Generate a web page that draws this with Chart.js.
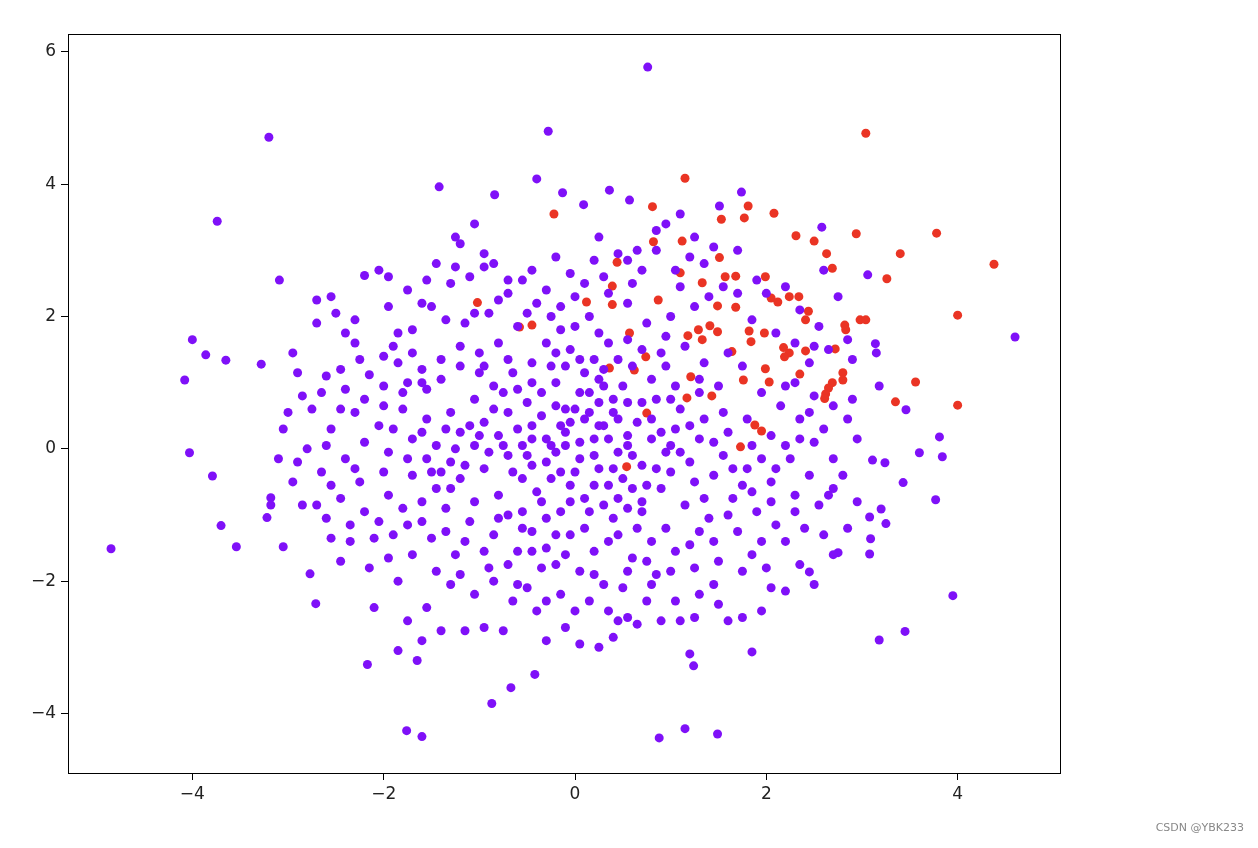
<!DOCTYPE html>
<html>
<head>
<meta charset="utf-8">
<script src="https://cdn.jsdelivr.net/npm/chart.js@4/dist/chart.umd.min.js"></script>
<style>
	html, body { margin: 0; padding: 0; background: #fff; }
	#wrap { position: relative; width: 1258px; height: 848px; }
	#mark { position: absolute; right: 14px; bottom: 14px; font: 11px "DejaVu Sans", sans-serif; color: #888; }
</style>
</head>
<body>
<div id="wrap">
	<canvas id="scatter" width="1258" height="848"></canvas>
	<div id="mark">CSDN @YBK233</div>
</div>
<script>
// points, [x, y]
const redPoints = [
	[3.04,4.77],[1.15,4.09],[-0.22,3.55],[0.81,3.66],[1.81,3.67],[2.08,3.56],[1.77,3.49],[1.53,3.47],
	[1.12,3.14],[0.82,3.13],[2.31,3.22],[2.5,3.14],[2.94,3.25],[3.78,3.26],[2.63,2.95],[3.4,2.95],
	[4.38,2.79],[3.26,2.57],[2.69,2.73],[1.51,2.89],[0.44,2.82],[1.1,2.66],[0.39,2.46],[1.33,2.51],
	[1.57,2.6],[1.68,2.61],[1.99,2.6],[0.39,2.18],[0.12,2.22],[0.87,2.25],[-1.02,2.21],[1.49,2.16],
	[1.68,2.14],[2.05,2.28],[2.12,2.22],[2.24,2.3],[2.34,2.3],[2.44,2.08],[4.0,2.02],[-0.45,1.87],
	[-0.58,1.84],[0.57,1.75],[1.18,1.71],[1.33,1.65],[1.41,1.86],[1.49,1.77],[1.29,1.8],[1.82,1.78],
	[1.98,1.75],[2.41,1.95],[2.82,1.87],[2.98,1.95],[3.04,1.95],[2.83,1.8],[1.64,1.47],[1.84,1.62],
	[2.18,1.53],[2.24,1.45],[2.19,1.39],[2.41,1.48],[2.72,1.51],[0.74,1.39],[0.36,1.22],[0.62,1.19],
	[1.99,1.21],[1.76,1.04],[2.03,1.01],[2.35,1.13],[2.8,1.15],[2.8,1.04],[2.69,1.0],[2.65,0.92],
	[2.62,0.83],[2.61,0.76],[3.56,1.01],[1.21,1.09],[1.17,0.77],[1.43,0.8],[3.35,0.71],[4.0,0.66],
	[0.75,0.54],[1.88,0.36],[1.95,0.27],[1.73,0.03],[0.54,-0.27]
];

const purplePoints = [
	[0.76,5.77],[-3.2,4.71],[-0.28,4.8],[-3.74,3.44],[-1.42,3.96],[-0.4,4.08],[-0.84,3.84],[0.36,3.91],
	[0.57,3.76],[-0.13,3.87],[0.09,3.69],[1.74,3.88],[1.51,3.67],[2.58,3.35],[-3.09,2.55],[-4.0,1.65],
	[-4.08,1.04],[-3.86,1.42],[-3.65,1.34],[-3.28,1.28],[-4.03,-0.06],[-3.79,-0.41],[-3.7,-1.16],[-3.54,-1.48],
	[-4.85,-1.51],[-3.18,-0.74],[-3.18,-0.85],[-3.22,-1.04],[-3.05,-1.48],[-2.77,-1.89],[-2.71,-2.34],[-2.17,-3.26],
	[-1.76,-4.26],[-1.6,-4.35],[-0.87,-3.85],[-0.67,-3.61],[-0.42,-3.41],[0.88,-4.37],[1.15,-4.23],[1.49,-4.31],
	[1.24,-3.28],[1.85,-3.07],[3.18,-2.89],[3.45,-2.76],[3.95,-2.22],[3.77,-0.77],[4.6,1.69],[3.81,0.18],
	[3.84,-0.12],[3.6,-0.06],[3.46,0.59],[3.18,0.95],[3.14,1.59],[3.06,2.63],[3.43,-0.51],[3.2,-0.91],
	[3.08,-1.03],[3.25,-1.13],[3.09,-1.36],[3.08,-1.59],[3.24,-0.21],[3.11,-0.17],[2.75,-1.57],[2.45,-1.86],
	[-2.7,2.25],[-2.55,2.3],[-2.7,1.9],[-2.5,2.05],[-2.4,1.75],[-2.2,2.62],[-2.05,2.7],[-1.95,2.6],
	[-2.3,1.6],[-2.25,1.35],[-2.15,1.12],[-2.0,1.4],[-1.85,1.75],[-1.7,1.8],[-1.6,2.2],[-1.45,2.8],
	[-1.25,3.2],[-1.2,3.1],[-1.05,3.4],[-1.3,2.5],[-1.1,2.6],[-0.95,2.75],[-0.85,2.8],[-1.5,2.15],
	[-1.35,1.95],[-1.15,1.9],[-0.9,2.05],[-1.7,1.45],[-1.85,1.3],[-2.6,1.1],[-2.45,1.2],[-2.9,1.15],
	[-2.85,0.8],[-2.4,0.9],[-2.0,0.95],[-1.75,1.0],[-1.55,0.9],[-1.4,1.05],[-1.2,1.25],[-1.0,1.45],
	[-0.8,1.6],[-0.7,2.35],[-0.55,2.55],[-0.4,2.2],[-0.3,2.4],[-0.15,1.8],[-0.05,2.65],[0.0,2.3],
	[0.15,2.0],[0.3,2.6],[0.45,2.95],[0.25,3.2],[0.65,3.0],[0.85,3.3],[0.95,3.4],[1.05,2.7],
	[1.2,2.9],[1.35,2.8],[1.55,2.45],[1.45,3.05],[1.7,3.0],[1.9,2.55],[2.0,2.35],[2.2,2.45],
	[2.35,2.1],[2.55,1.85],[2.6,2.7],[2.75,2.3],[2.85,1.65],[3.15,1.45],[2.9,1.35],[2.65,1.5],
	[2.45,1.3],[2.3,1.0],[2.5,0.8],[2.7,0.65],[2.9,0.75],[2.85,0.45],[2.95,0.15],[2.6,0.3],
	[2.35,0.45],[2.15,0.65],[1.95,0.85],[1.75,1.25],[1.6,1.45],[1.35,1.3],[1.15,1.55],[0.95,1.7],
	[0.75,1.9],[0.55,2.2],[0.35,1.6],[0.2,1.35],[-0.05,1.5],[-0.25,1.25],[-0.45,1.0],[-0.65,1.15],
	[-0.85,0.95],[-1.05,0.75],[-1.3,0.55],[-1.55,0.45],[-1.8,0.6],[-2.05,0.35],[-2.3,0.55],[-2.55,0.3],
	[-2.8,0.0],[-3.05,0.3],[-3.1,-0.15],[-2.95,-0.5],[-2.65,-0.35],[-2.4,-0.15],[-2.2,0.1],[-1.95,-0.05],
	[-1.7,0.15],[-1.45,0.05],[-1.2,0.25],[-0.95,0.4],[-0.7,0.55],[-0.45,0.35],[-0.2,0.65],[0.05,0.85],
	[0.3,0.95],[0.55,0.7],[0.8,1.05],[1.05,0.95],[1.3,0.85],[1.55,0.55],[1.8,0.45],[2.05,0.2],
	[2.25,-0.15],[2.45,-0.4],[2.7,-0.6],[2.55,-0.85],[2.3,-0.7],[2.05,-0.5],[1.8,-0.3],[1.55,-0.1],
	[1.3,0.15],[1.05,0.3],[0.8,0.45],[0.55,0.2],[0.3,0.35],[0.05,0.1],[-0.2,-0.05],[-0.45,-0.25],
	[-0.7,-0.1],[-0.95,-0.3],[-1.2,-0.45],[-1.45,-0.6],[-1.7,-0.4],[-1.95,-0.7],[-2.2,-0.95],[-2.45,-0.75],
	[-2.6,-1.05],[-2.35,-1.4],[-2.1,-1.35],[-2.15,-1.8],[-1.85,-2.0],[-2.1,-2.4],[-1.75,-2.6],[-1.55,-2.4],
	[-1.6,-2.9],[-1.85,-3.05],[-1.65,-3.2],[-1.3,-2.05],[-1.05,-2.2],[-0.9,-1.8],[-1.25,-1.6],[-1.5,-1.35],
	[-1.75,-1.15],[-1.35,-0.9],[-1.1,-1.1],[-0.85,-1.3],[-0.6,-1.55],[-0.35,-1.8],[-0.15,-2.2],[-0.4,-2.45],
	[-0.65,-2.3],[-0.95,-2.7],[-1.15,-2.75],[-0.75,-2.75],[-0.3,-2.9],[0.05,-2.95],[0.25,-3.0],[0.4,-2.85],
	[0.55,-2.55],[0.75,-2.3],[0.9,-2.6],[1.1,-2.6],[1.3,-2.2],[1.45,-2.05],[1.6,-2.6],[1.75,-2.55],
	[1.95,-2.45],[2.05,-2.1],[2.2,-2.15],[2.35,-1.75],[2.6,-1.3],[2.85,-1.2],[2.95,-0.8],[2.65,-0.7],
	[1.95,-1.4],[1.75,-1.85],[1.5,-1.7],[1.2,-1.45],[0.95,-1.2],[0.7,-0.95],[0.45,-0.75],[0.2,-0.55],
	[-0.05,-0.8],[-0.3,-1.05],[-0.55,-0.95],[-0.8,-0.7],[-0.55,-0.45],[0.1,-1.2],[0.35,-1.4],[0.6,-1.65],
	[0.85,-1.9],[0.5,-2.1],[0.2,-1.9],[-0.1,-1.6],[0.0,-2.45],[0.65,-1.2],[0.9,-0.6],[1.15,-0.85],
	[1.4,-1.05],[1.65,-0.75],[1.9,-0.95],[2.1,-1.15],[1.45,-0.4],[1.2,-0.2],[0.95,-0.05],[0.7,-0.25],
	[0.45,-0.05],[0.2,0.15],[-0.05,0.4],[-0.3,0.15],[-0.55,0.05],[-0.8,0.2],[-1.05,0.05],[-1.3,-0.2],
	[-1.55,-0.15],[-1.8,-0.9],[-2.05,-1.1],[-1.6,-0.8],[-0.2,1.0],[0.1,1.15],[0.45,1.35],[0.7,1.5],
	[0.85,0.75],[1.1,0.6],[0.4,0.55],[0.15,0.55],[-0.1,0.25],[0.25,-0.3],[0.5,-0.45],[0.75,-0.55],
	[0.0,-0.35],[-0.25,-0.45],[0.15,-0.95],[0.4,-1.05],[-0.45,-1.25],[-0.7,-1.0],[-0.2,-1.3],[1.35,0.45],
	[1.6,0.25],[1.85,0.05],[2.1,-0.3],[2.35,0.15],[-1.0,1.15],[-0.75,0.85],[-0.5,0.7],[-1.6,1.2],
	[-1.9,1.55],[-2.75,0.6],[-3.0,0.55],[-2.55,-0.55],[-2.7,-0.85],[-2.25,-0.5],[1.0,2.0],[1.25,2.15],
	[0.6,2.5],[-0.6,1.85],[-0.3,1.6],[2.7,-1.6],[2.5,-2.05],[1.2,-3.1],[0.45,-2.6],[-0.5,-2.1],[-1.4,-2.75],
	// denser core
	[-0.1,0.6],[0.1,0.45],[0.25,0.7],[0.35,0.15],[-0.35,0.5],[-0.15,0.35],[0.05,-0.15],[0.2,-0.1],
	[-0.3,-0.2],[-0.05,-0.55],[0.35,-0.55],[0.6,-0.1],[0.65,0.4],[0.9,0.25],[1.0,-0.35],[1.25,-0.5],
	[1.35,-0.75],[0.55,-0.9],[0.3,-0.85],[-0.15,-0.95],[-0.4,-0.65],[-0.65,-0.35],[-0.9,-0.05],[-1.1,0.35],
	[-0.85,0.6],[-0.6,0.3],[-0.35,0.85],[-0.1,1.25],[0.25,1.05],[0.5,0.95],[0.6,1.25],[0.95,1.25],
	[1.2,0.35],[1.45,0.1],[1.65,-0.3],[1.75,-0.55],[1.6,-1.0],[1.3,-1.25],[1.05,-1.55],[0.8,-1.4],
	[0.45,-1.3],[0.2,-1.55],[-0.05,-1.3],[-0.3,-1.5],[-0.55,-1.2],[-0.8,-1.05],[-1.05,-0.8],[-1.3,-0.6],
	[-1.5,-0.35],[-1.25,0.0],[-1.0,0.2],[-0.75,0.05],[-0.5,-0.1],[-0.25,0.05],[0.0,0.6],[0.15,0.85],
	[0.4,0.75],[0.7,0.7],[1.0,0.75],[0.3,1.2],[0.05,1.35],[-0.2,1.45],[-0.45,1.3],[-0.7,1.35],
	[-0.95,1.25],[-1.2,1.55],[-1.4,1.35],[-1.6,1.0],[-1.8,0.85],[-2.0,0.65],[-2.2,0.75],[-2.45,0.6],
	[-1.9,0.3],[-1.6,0.25],[-1.35,0.3],[-1.15,-0.25],[-1.4,-0.35],[-1.75,-0.15],[-2.0,-0.35],[-2.3,-0.3],
	[-1.9,-1.3],[-1.6,-1.1],[-1.35,-1.25],[-1.15,-1.4],[-0.95,-1.55],[-0.7,-1.75],[-0.45,-1.55],[-0.2,-1.75],
	[0.05,-1.85],[0.3,-2.05],[0.55,-1.85],[0.75,-1.7],[1.0,-1.85],[1.25,-1.8],[1.45,-1.4],[1.7,-1.25],
	[1.85,-1.6],[2.0,-1.8],[2.2,-1.4],[2.4,-1.2],[2.3,-0.95],[2.05,-0.8],[1.85,-0.65],[1.95,-0.15],
	[2.2,0.05],[2.5,0.1],[2.7,-0.15],[2.8,-0.4],[2.45,0.55],[2.2,0.95],[1.5,0.95],[1.3,1.05],
	[0.9,1.45],[0.55,1.65],[0.25,1.75],[0.0,1.85],[-0.25,2.0],[-0.5,2.05],[-0.8,2.25],[-1.05,2.05],
	[-0.15,2.15],[0.1,2.5],[0.35,2.35],[0.7,2.7],[0.55,2.85],[0.2,2.85],[-0.2,2.9],[-0.45,2.7],
	[-0.7,2.55],[1.1,2.45],[1.4,2.3],[1.7,2.35],[1.85,1.95],[2.1,1.75],[2.3,1.6],[2.5,1.55],
	[-0.85,-2.0],[-0.6,-2.05],[-0.3,-2.3],[-0.1,-2.7],[0.15,-2.3],[0.35,-2.45],[0.65,-2.65],[0.8,-2.05],
	[1.05,-2.3],[1.25,-2.55],[1.5,-2.35],[-1.2,-1.9],[-1.45,-1.85],[-1.7,-1.6],[-1.95,-1.65],[-2.35,-1.15],
	[-2.45,-1.7],[-2.55,-1.35],[-2.85,-0.85],[-2.9,-0.2],[-2.6,0.05],[-2.65,0.85],[-2.95,1.45],[-2.3,1.95],
	[-1.95,2.15],[-1.75,2.4],[-1.55,2.55],[-1.25,2.75],[-0.95,2.95],[0.85,3.0],[1.25,3.2],[1.1,3.55],
	[0.55,0.05],[0.8,0.15],[0.85,-0.3],[0.6,-0.6],[0.4,-0.3],[0.1,-0.75],[-0.15,-0.35],[-0.35,-0.8],
	[0.25,0.35],[0.45,0.45],[-0.1,0.05],[-0.45,0.15],[0.7,-0.8],[1.1,-0.05],[1.0,0.05],[-0.6,0.9]
];

const xTicks = [-4, -2, 0, 2, 4];
const yTicks = [-4, -2, 0, 2, 4, 6];

const toXY = (p) => ({ x: p[0], y: p[1] });
const minus = (v) => (v < 0 ? "\u2212" + -v : "" + v);

const frame = {
	id: "frame",
	afterDraw(chart) {
		const a = chart.chartArea;
		const ctx = chart.ctx;
		ctx.save();
		ctx.strokeStyle = "#000";
		ctx.lineWidth = 1;
		ctx.strokeRect(a.left + 0.5, a.top + 0.5, a.right - a.left, a.bottom - a.top);
		ctx.restore();
	},
};

const tickFont = { family: "DejaVu Sans", size: 17 };

new Chart(document.getElementById("scatter"), {
	type: "scatter",
	data: {
		datasets: [
			{
				data: purplePoints.map(toXY),
				backgroundColor: "#7f10f8",
				borderWidth: 0,
				pointRadius: 4.5,
			},
			{
				data: redPoints.map(toXY),
				backgroundColor: "#ea3424",
				borderWidth: 0,
				pointRadius: 4.5,
			},
		],
	},
	plugins: [frame],
	options: {
		responsive: false,
		animation: false,
		layout: { padding: { top: 34, right: 198, bottom: 30, left: 0 } },
		plugins: { legend: { display: false }, tooltip: { enabled: false } },
		scales: {
			x: {
				min: -5.3,
				max: 5.07,
				afterBuildTicks: (s) => { s.ticks = xTicks.map((v) => ({ value: v })); },
				afterFit: (s) => { s.height = 45; },
				grid: { drawOnChartArea: false, color: "#000", tickLength: 7 },
				border: { color: "#000" },
				ticks: { color: "#222", font: tickFont, padding: 4, callback: minus },
			},
			y: {
				min: -4.9,
				max: 6.27,
				afterBuildTicks: (s) => { s.ticks = yTicks.map((v) => ({ value: v })); },
				afterFit: (s) => { s.width = 68; },
				grid: { drawOnChartArea: false, color: "#000", tickLength: 7 },
				border: { color: "#000" },
				ticks: { color: "#222", font: tickFont, padding: 5, callback: minus },
			},
		},
	},
});
</script>
</body>
</html>
